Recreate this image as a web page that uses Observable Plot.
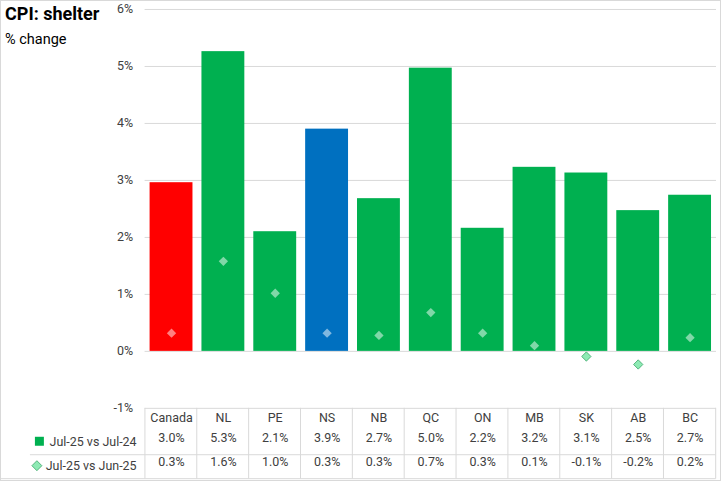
<!DOCTYPE html>
<html>
<head>
<meta charset="utf-8">
<script src="https://cdn.jsdelivr.net/npm/d3@7"></script>
<script src="https://cdn.jsdelivr.net/npm/@observablehq/plot@0.6"></script>
<style>
  html, body { margin: 0; padding: 0; background: #fff; }
  #wrap { position: relative; width: 721px; height: 481px; box-sizing: border-box; border: 1px solid #d9d9d9; overflow: hidden; font-family: Roboto, "Liberation Sans", sans-serif; }
  #wrap svg { position: absolute; left: -1px; top: -1px; }
  #title { position: absolute; left: 4px; top: 2px; font-size: 18px; font-weight: bold; color: #000; z-index: 2; }
  #subtitle { position: absolute; left: 4px; top: 30px; font-size: 14.5px; color: #000; z-index: 2; }
</style>
</head>
<body>
<div id="wrap">
  <div id="title">CPI: shelter</div>
  <div id="subtitle">% change</div>
</div>
<script>
const categories = ["Canada", "NL", "PE", "NS", "NB", "QC", "ON", "MB", "SK", "AB", "BC"];
const yoy = [2.96, 5.26, 2.10, 3.90, 2.68, 4.97, 2.16, 3.23, 3.13, 2.47, 2.74];
const mom = [0.32, 1.58, 1.02, 0.32, 0.28, 0.68, 0.32, 0.10, -0.09, -0.23, 0.24];
const barColors = ["#ff0000", "#00b050", "#00b050", "#0070c0", "#00b050", "#00b050", "#00b050", "#00b050", "#00b050", "#00b050", "#00b050"];
const yTicks = [-1, 0, 1, 2, 3, 4, 5, 6];
const seriesNames = ["Jul-25 vs Jul-24", "Jul-25 vs Jun-25"];

const data = categories.map((c, i) => ({cat: c, yoy: yoy[i], mom: mom[i], color: barColors[i],
  inside: mom[i] >= 0 && mom[i] <= yoy[i]}));

const fmt = v => v.toFixed(1) + "%";
const textColor = "#404040";
const font = "Roboto, 'Liberation Sans', sans-serif";

const plot = Plot.plot({
  width: 721,
  height: 481,
  marginTop: 9,
  marginBottom: 72,
  marginLeft: 145,
  marginRight: 3,
  style: {fontFamily: font, fontSize: "12.5px", color: textColor, background: "transparent"},
  x: {domain: categories, paddingInner: 0.18, paddingOuter: 0.09, axis: null},
  y: {domain: [-1, 6], axis: null},
  marks: [
    Plot.gridY(yTicks, {stroke: "#d9d9d9", strokeOpacity: 1}),
    Plot.axisY(yTicks, {tickSize: 0, tickPadding: 12, tickFormat: d => d + "%", fill: textColor, fontSize: 12.5, label: null}),
    Plot.barY(data, {x: "cat", y: "yoy", fill: "color"}),
    Plot.dot(data, {x: "cat", y: "mom", symbol: "diamond2", r: 4.2,
      fill: d => d.inside ? "rgba(255,255,255,0.5)" : "#8eeab4",
      stroke: d => d.inside ? "none" : "#3aa567", strokeWidth: 0.8}),
    Plot.axisX({tickSize: 0, tickPadding: 5, fill: textColor, fontSize: 12.5, label: null}),
    Plot.text(data, {x: "cat", text: d => fmt(d.yoy), frameAnchor: "bottom", dy: 34, fill: textColor, fontSize: 12.5}),
    Plot.text(data, {x: "cat", text: d => fmt(d.mom), frameAnchor: "bottom", dy: 58, fill: textColor, fontSize: 12.5})
  ]
});

document.getElementById("wrap").appendChild(plot);

// table lines and row legend, placed with the plot's own x scale
const xs = plot.scale("x");
const step = xs.step;
const pad = xs.paddingInner * step / 2;
const svg = d3.select(plot);
const g = svg.append("g").attr("stroke", "#d9d9d9").attr("stroke-width", 1);
const yTop = 409, yMid = 456, yBot = 480;
const bounds = categories.map(c => xs.apply(c) - pad);
bounds.push(xs.apply(categories[categories.length - 1]) + xs.bandwidth + pad);
bounds.forEach(b => {
  g.append("line").attr("x1", b).attr("x2", b).attr("y1", yTop).attr("y2", yBot);
});
g.append("line").attr("x1", 30).attr("x2", bounds[bounds.length - 1]).attr("y1", yMid).attr("y2", yMid);
g.append("line").attr("x1", 0).attr("x2", bounds[bounds.length - 1]).attr("y1", yBot).attr("y2", yBot);

const leg = svg.append("g").attr("font-family", font).attr("font-size", 12.5).attr("fill", textColor);
leg.append("rect").attr("x", 35).attr("y", 438).attr("width", 9).attr("height", 9).attr("fill", "#00b050");
leg.append("text").attr("x", 137).attr("y", 443).attr("dy", "0.35em").attr("text-anchor", "end").text(seriesNames[0]);
leg.append("path").attr("d", "M37,462 L42,467 L37,472 L32,467 Z").attr("fill", "#8eeab4").attr("stroke", "#3aa567").attr("stroke-width", 0.8);
leg.append("text").attr("x", 137).attr("y", 467).attr("dy", "0.35em").attr("text-anchor", "end").text(seriesNames[1]);
</script>
</body>
</html>
